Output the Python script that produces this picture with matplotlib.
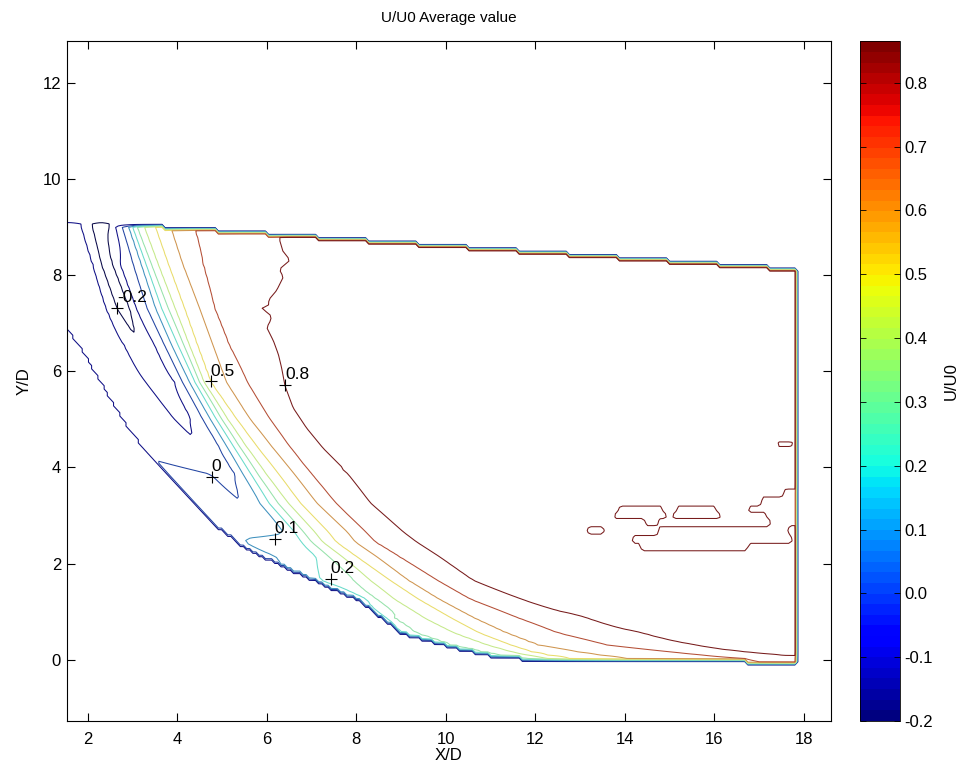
import numpy as np
import matplotlib
matplotlib.use("Agg")
import matplotlib.pyplot as plt
from matplotlib.colors import Normalize
from matplotlib.cm import ScalarMappable

plt.rcParams['font.family'] = ['Liberation Sans', 'DejaVu Sans']
plt.rcParams['font.size'] = 12
plt.rcParams['axes.unicode_minus'] = False

# contour levels and colour range
levels = [-0.2, -0.1, 0.0, 0.1, 0.2, 0.3, 0.4, 0.5, 0.6, 0.7, 0.8]
cbar_ticks = levels
u_min, u_max = -0.2, 0.865

# measurement domain: top edge, right edge and curved lower wall (X/D, Y/D)
top_x = [1.0, 17.85]
top_y = [9.16, 8.11]
right_x = 17.85
wall_x = [0.5, 1.2, 1.53, 1.83, 2.35, 2.85, 3.42, 4.1, 4.8, 5.55, 6.59, 8.08,
          9.0, 10.0, 11.0, 12.0, 17.85, 18.5]
wall_y = [8.25, 7.32, 6.89, 6.5, 5.67, 4.9, 4.2, 3.56, 2.83, 2.31, 1.85, 1.23,
          0.57, 0.3, 0.1, 0.0, -0.05, -0.05]
outside_u = -0.15

# U/U0 read along horizontal rows: row height, then (x, value) knots
u_top = [-0.05, -0.06, -0.1, -0.2, -0.24, -0.2, -0.1, 0.0, 0.1, 0.2, 0.3, 0.4,
         0.5, 0.6, 0.7, 0.8, 0.84, 0.84]
row_y = [9.45, 9.03, 8.23, 7.31, 6.54, 5.77, 5.04, 4.45, 3.86, 3.26, 2.66,
         2.45, 2.15, 1.66, 1.26, 0.86, 0.56, 0.31, 0.14, 0.01, -0.3]
row_x = [
    [1.0, 1.6, 1.86, 2.09, 2.3, 2.50, 2.61, 2.76, 2.91, 2.99, 3.09, 3.25, 3.5, 3.84, 4.37, 6.1, 6.5, 18.5],
    [1.0, 1.6, 1.86, 2.09, 2.3, 2.50, 2.61, 2.76, 2.91, 2.99, 3.09, 3.25, 3.5, 3.84, 4.37, 6.1, 6.5, 18.5],
    [1.0, 1.85, 2.12, 2.3, 2.43, 2.56, 2.72, 3.02, 3.2, 3.3, 3.42, 3.57, 3.8, 4.12, 4.57, 6.0, 6.4, 18.5],
    [1.0, 2.15, 2.42, 2.65, 2.8, 2.94, 3.08, 3.33, 3.52, 3.65, 3.8, 3.95, 4.16, 4.5, 4.83, 5.75, 6.15, 18.5],
    [1.0, 2.5, 2.82, 3.15, 3.5, 3.72, 3.88, 4.02, 4.15, 4.27, 4.45, 4.8, 5.16, 5.95, 6.35, 18.5],
    [1.0, 3.0, 3.3, 3.62, 3.95, 4.12, 4.28, 4.4, 4.5, 4.6, 4.75, 5.1, 5.57, 6.2, 6.6, 18.5],
    [1.0, 3.6, 3.9, 4.1, 4.3, 4.55, 4.72, 4.85, 4.97, 5.1, 5.3, 5.6, 6.05, 6.5, 6.9, 18.5],
    [1.0, 3.2, 4.0, 4.5, 4.93, 5.1, 5.25, 5.38, 5.53, 5.77, 6.1, 6.5, 7.05, 7.45, 18.5],
    [1.0, 3.78, 4.1, 4.75, 5.05, 5.3, 5.47, 5.65, 5.8, 5.99, 6.27, 6.62, 7.0, 7.82, 8.2, 18.5],
    [1.0, 4.39, 5.0, 5.45, 5.6, 5.85, 6.05, 6.25, 6.48, 6.75, 7.12, 7.54, 8.32, 8.7, 18.5],
    [1.0, 5.05, 5.5, 6.2, 6.4, 6.62, 6.82, 7.07, 7.37, 7.8, 8.2, 9.05, 9.45, 18.5],
    [1.0, 5.35, 5.5, 5.7, 6.4, 6.78, 7.0, 7.25, 7.55, 7.98, 8.42, 9.35, 9.75, 18.5],
    [1.0, 5.91, 6.2, 6.6, 7.1, 7.38, 7.68, 8.0, 8.45, 8.95, 9.85, 10.25, 18.5],
    [1.0, 7.05, 7.2, 7.6, 7.95, 8.3, 8.75, 9.15, 9.8, 10.6, 11.0, 18.5],
    [1.0, 8.0, 8.15, 8.25, 8.45, 8.85, 9.4, 9.85, 10.55, 11.7, 12.1, 18.5],
    [1.0, 8.6, 8.7, 8.85, 9.55, 10.15, 10.65, 11.65, 13.2, 13.6, 18.5],
    [1.0, 9.0, 9.3, 10.2, 10.75, 11.35, 12.5, 14.4, 14.8, 18.5],
    [1.0, 9.96, 10.1, 10.95, 11.45, 12.05, 13.6, 15.6, 16.0, 18.5],
    [1.0, 10.8, 10.9, 11.6, 12.0, 13.1, 15.3, 16.9, 17.3, 18.5],
    [1.0, 11.9, 12.0, 12.4, 12.9, 14.2, 17.0, 18.5],
    [1.0, 11.9, 12.0, 12.4, 12.9, 14.2, 17.0, 18.5],
]
row_u = [
    u_top,
    u_top,
    u_top,
    u_top,
    [-0.05, -0.06, -0.1, -0.19, -0.1, 0.0, 0.1, 0.2, 0.3, 0.4, 0.5, 0.6, 0.7, 0.8, 0.84, 0.84],
    [-0.05, -0.06, -0.1, -0.15, -0.1, 0.0, 0.1, 0.2, 0.3, 0.4, 0.5, 0.6, 0.7, 0.8, 0.84, 0.84],
    [-0.05, -0.06, -0.1, -0.12, -0.1, 0.0, 0.1, 0.2, 0.3, 0.4, 0.5, 0.6, 0.7, 0.8, 0.84, 0.84],
    [-0.03, -0.03, -0.06, -0.095, 0.0, 0.1, 0.2, 0.3, 0.4, 0.5, 0.6, 0.7, 0.8, 0.84, 0.84],
    [0.03, 0.03, 0.02, 0.0, -0.03, 0.0, 0.1, 0.2, 0.3, 0.4, 0.5, 0.6, 0.7, 0.8, 0.84, 0.84],
    [0.05, 0.05, 0.03, 0.002, 0.03, 0.1, 0.2, 0.3, 0.4, 0.5, 0.6, 0.7, 0.8, 0.84, 0.84],
    [0.06, 0.06, 0.07, 0.09, 0.1, 0.2, 0.3, 0.4, 0.5, 0.6, 0.7, 0.8, 0.84, 0.84],
    [0.07, 0.07, 0.1, 0.12, 0.13, 0.2, 0.3, 0.4, 0.5, 0.6, 0.7, 0.8, 0.84, 0.84],
    [0.08, 0.08, 0.1, 0.13, 0.2, 0.3, 0.4, 0.5, 0.6, 0.7, 0.8, 0.84, 0.84],
    [0.12, 0.12, 0.2, 0.26, 0.3, 0.4, 0.5, 0.6, 0.7, 0.8, 0.84, 0.84],
    [0.13, 0.13, 0.18, 0.2, 0.3, 0.4, 0.5, 0.6, 0.7, 0.8, 0.84, 0.84],
    [0.15, 0.15, 0.2, 0.3, 0.4, 0.5, 0.6, 0.7, 0.8, 0.84, 0.84],
    [0.18, 0.18, 0.3, 0.4, 0.5, 0.6, 0.7, 0.8, 0.84, 0.84],
    [0.22, 0.22, 0.3, 0.4, 0.5, 0.6, 0.7, 0.8, 0.84, 0.84],
    [0.25, 0.25, 0.3, 0.4, 0.5, 0.6, 0.7, 0.8, 0.84, 0.84],
    [0.28, 0.28, 0.3, 0.4, 0.5, 0.6, 0.7, 0.74],
    [0.28, 0.28, 0.3, 0.4, 0.5, 0.6, 0.7, 0.74],
]

# ragged edge of the U/U0 = 0.8 core in the upper part (y, x)
edge08_y = [3.98, 4.4, 4.82, 5.24, 5.69, 6.08, 6.35, 6.63, 6.91, 7.08, 7.19, 7.3,
            7.4, 7.47, 7.68, 7.96, 8.12, 8.31, 8.5, 8.72, 8.9]
edge08_x = [7.71, 7.26, 6.89, 6.59, 6.41, 6.33, 6.26, 6.15, 6.0, 6.1, 6.07, 5.88,
            6.08, 6.03, 6.22, 6.37, 6.28, 6.52, 6.36, 6.29, 6.3]

# low-speed pockets inside the U/U0 > 0.8 core: row height, x spans
pocket_y = [2.2, 2.32, 2.5, 2.7, 2.86, 3.0, 3.12, 3.3, 3.5, 3.62, 4.38, 4.48, 4.6]
pocket_spans = [
    [],
    [(14.4, 16.7)],
    [(14.2, 17.7)],
    [(13.2, 13.5), (14.8, 17.6)],
    [(14.5, 14.7), (17.3, 17.9)],
    [(13.8, 14.9), (15.1, 16.1), (17.2, 17.9)],
    [(13.9, 14.8), (15.2, 16.0), (16.8, 17.9)],
    [(17.1, 17.9)],
    [(17.6, 17.9)],
    [],
    [],
    [(17.45, 17.72)],
    [],
]
core_u, pocket_u = 0.84, 0.77

# clabel positions
lab_x = [2.65, 4.75, 6.41, 4.77, 6.18, 7.43]
lab_y = [7.31, 5.79, 5.72, 3.81, 2.52, 1.68]
lab_txt = ['-0.2', '0.5', '0.8', '0', '0.1', '0.2']

# ---- build the gridded field (PIV-like spacing)
xs = np.arange(1.0, 18.25, 0.07)
ys = np.arange(-0.6, 9.9, 0.07)
X, Y = np.meshgrid(xs, ys)

# rows are blended along the shear layer: each row is slid so that its
# 0.5 crossing lines up before mixing two neighbouring rows
order = np.argsort(row_y)
ry = np.array(row_y)[order]
rs = np.array([row_x[k][row_u[k].index(0.5)] for k in order])
U = np.empty(X.shape)
for j, y in enumerate(ys):
    k = int(np.clip(np.searchsorted(ry, y) - 1, 0, len(ry) - 2))
    w = float(np.clip((y - ry[k]) / (ry[k + 1] - ry[k]), 0, 1))
    s = rs[k] + w * (rs[k + 1] - rs[k])
    a, b = order[k], order[k + 1]
    pa = np.interp(xs - s + rs[k], row_x[a], row_u[a])
    pb = np.interp(xs - s + rs[k + 1], row_x[b], row_u[b])
    U[j] = (1 - w) * pa + w * pb

xe = np.interp(Y, edge08_y, edge08_x, left=np.nan, right=np.nan)
W = 0.8 + 0.04 * np.clip((X - xe) / 0.2, -1, 1)
U = np.minimum(U, np.where(np.isnan(xe), 1.0, W))

pprof = []
for spans in pocket_spans:
    kx, ku = [1.0], [core_u]
    for a, b in spans:
        kx += [a - 0.1, a, b, b + 0.1]
        ku += [core_u, pocket_u, pocket_u, core_u]
    kx.append(18.5)
    ku.append(core_u)
    pprof.append(np.interp(xs, kx, ku))
pprof = np.array(pprof)
P = np.empty(X.shape)
for i in range(len(xs)):
    P[:, i] = np.interp(ys, pocket_y, pprof[:, i])
U = np.minimum(U, P)

inside = (Y <= np.interp(X, top_x, top_y)) & (Y >= np.interp(X, wall_x, wall_y)) & (X <= right_x)
Z = np.where(inside, U, outside_u)

# ---- plot
cmap = plt.get_cmap('jet', 64)
norm = Normalize(vmin=u_min, vmax=u_max)

# thin 1-px lines in the original lose most of their chroma
line_colors = []
for lv in levels:
    c = np.array(cmap(norm(lv))[:3])
    lum = 0.299 * c[0] + 0.587 * c[1] + 0.114 * c[2]
    line_colors.append(tuple(lum + 0.5 * (c - lum)))

fig = plt.figure(figsize=(9.69, 7.78), dpi=100)
ax = fig.add_axes([0.0688, 0.0733, 0.7885, 0.8736])
cax = fig.add_axes([0.8875, 0.0733, 0.0408, 0.8736])

ax.contour(X, Y, Z, levels=levels, colors=line_colors, linewidths=0.75)
ax.plot(lab_x, lab_y, '+', color='black', markersize=9, markeredgewidth=0.8)
for x, y, t in zip(lab_x, lab_y, lab_txt):
    ax.annotate(t, (x, y), xytext=(0, 2), textcoords='offset points',
                ha='left', va='bottom', fontsize=12.5)

ax.set_xlim(1.53, 18.6)
ax.set_ylim(-1.27, 12.86)
ax.set_xticks(range(2, 19, 2))
ax.set_yticks(range(0, 13, 2))
ax.tick_params(direction='in', top=True, right=True, length=6, width=0.8)
ax.tick_params(axis='x', pad=8)
ax.tick_params(axis='y', pad=4)
ax.set_xlabel('X/D', labelpad=1)
ax.set_ylabel('Y/D', labelpad=8)
ax.set_title('U/U0 Average value', fontsize=11, pad=14)

sm = ScalarMappable(norm=norm, cmap=cmap)
cb = fig.colorbar(sm, cax=cax, ticks=cbar_ticks)
cb.outline.set_linewidth(0.6)
cax.tick_params(direction='in', left=True, right=True, length=4, width=0.6)
cb.set_label('U/U0', labelpad=8)

fig.savefig('out.png', dpi=100)
